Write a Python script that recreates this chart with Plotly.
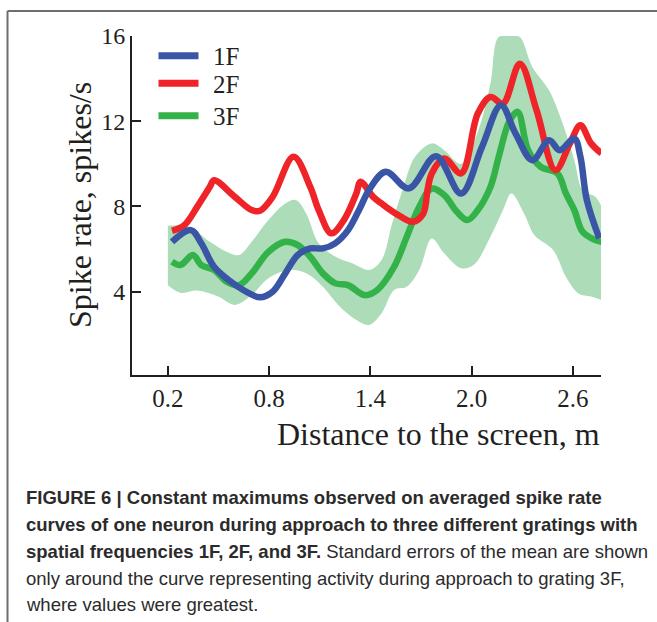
import plotly.graph_objects as go

# ---- data -----------------------------------------------------------------
# Distance to the screen (m) and averaged spike rate (spikes/s)
x_1f = [0.224, 0.336, 0.397, 0.473, 0.559, 0.646, 0.745, 0.820, 0.895, 0.969,
        1.043, 1.118, 1.191, 1.267, 1.341, 1.391, 1.490, 1.627, 1.788, 1.937,
        2.061, 2.173, 2.260, 2.359, 2.458, 2.521, 2.608, 2.644, 2.682, 2.756]
y_1f = [6.34, 6.89, 6.27, 5.17, 4.55, 4.08, 3.74, 4.00, 4.86, 5.72,
        6.03, 6.03, 6.27, 6.89, 7.98, 8.77, 9.63, 8.85, 10.36, 8.61,
        10.80, 12.75, 11.42, 10.17, 11.11, 10.64, 11.19, 10.33, 8.30, 6.50]

x_2f = [0.224, 0.298, 0.373, 0.448, 0.473, 0.596, 0.696, 0.745, 0.820, 0.944,
        1.043, 1.093, 1.168, 1.242, 1.316, 1.341, 1.416, 1.465, 1.565, 1.651,
        1.713, 1.738, 1.763, 1.837, 1.937, 2.036, 2.111, 2.185, 2.285, 2.384,
        2.496, 2.582, 2.644, 2.707, 2.769]
y_2f = [6.85, 7.13, 7.98, 8.92, 9.23, 8.45, 7.83, 7.80, 8.45, 10.33,
        8.92, 7.83, 6.74, 7.36, 8.61, 9.16, 8.45, 8.14, 7.59, 7.28,
        7.67, 8.77, 9.55, 10.25, 9.55, 12.36, 13.14, 12.83, 14.70, 12.52,
        9.70, 10.96, 11.81, 10.96, 10.49]

x_3f = [0.224, 0.273, 0.348, 0.397, 0.473, 0.547, 0.621, 0.696, 0.795, 0.895,
        0.969, 1.043, 1.118, 1.192, 1.267, 1.366, 1.440, 1.540, 1.615, 1.689,
        1.763, 1.838, 1.912, 1.974, 2.036, 2.111, 2.160, 2.223, 2.272, 2.334,
        2.409, 2.508, 2.558, 2.608, 2.657, 2.732, 2.769]
y_3f = [5.41, 5.25, 5.72, 5.25, 5.02, 4.47, 4.31, 4.86, 5.87, 6.34,
        6.19, 5.64, 4.86, 4.39, 4.31, 3.84, 4.08, 5.17, 6.58, 7.98,
        8.84, 8.53, 7.75, 7.36, 7.83, 8.92, 10.33, 12.00, 12.44, 10.64,
        9.86, 9.55, 8.61, 7.83, 6.81, 6.42, 6.34]

# standard error band around the 3F curve
x_3f_upper = [0.199, 0.324, 0.448, 0.547, 0.622, 0.696, 0.795, 0.895, 0.957, 1.019,
              1.093, 1.193, 1.292, 1.391, 1.465, 1.528, 1.590, 1.664, 1.763, 1.837,
              1.937, 2.036, 2.111, 2.160, 2.235, 2.285, 2.359, 2.458, 2.546, 2.608,
              2.657, 2.732, 2.770]
y_3f_upper = [7.10, 7.05, 6.34, 5.87, 5.72, 6.34, 7.36, 8.14, 8.30, 7.67,
              6.27, 5.64, 5.33, 5.02, 5.48, 7.20, 8.77, 10.33, 10.96, 10.64,
              10.00, 11.50, 13.77, 15.95, 16.00, 15.95, 14.55, 13.45, 11.73, 10.17,
              8.77, 8.45, 7.98]
x_3f_lower = [0.199, 0.274, 0.373, 0.497, 0.596, 0.696, 0.795, 0.919, 1.019, 1.118,
              1.217, 1.316, 1.391, 1.465, 1.540, 1.614, 1.689, 1.763, 1.837, 1.937,
              2.011, 2.111, 2.185, 2.235, 2.310, 2.371, 2.483, 2.558, 2.632, 2.707,
              2.770]
y_3f_lower = [4.30, 3.95, 4.05, 3.77, 3.38, 3.84, 4.63, 5.02, 4.86, 4.23,
              3.30, 2.67, 2.44, 2.98, 4.08, 4.23, 5.02, 6.50, 5.80, 5.10,
              5.25, 6.58, 7.83, 8.61, 7.67, 6.66, 5.95, 4.70, 3.92, 3.77,
              3.61]

x_ticks = [0.2, 0.8, 1.4, 2.0, 2.6]
x_tick_labels = ["0.2", "0.8", "1.4", "2.0", "2.6"]
y_ticks = [4, 8, 12, 16]
y_tick_labels = ["4", "8", "12", "16"]

series_names = ["1F", "2F", "3F"]
series_colors = ["#3a55a6", "#ee2428", "#33b24a"]
band_color = "#acdcb8"

caption_lines = [
    "<b>FIGURE 6 | Constant maximums observed on averaged spike rate</b>",
    "<b>curves of one neuron during approach to three different gratings with</b>",
    "<b>spatial frequencies 1F, 2F, and 3F.</b> Standard errors of the mean are shown",
    "only around the curve representing activity during approach to grating 3F,",
    "where values were greatest.",
]

# ---- page geometry (pixels) ---------------------------------------------------
FIG_W, FIG_H = 657, 622
L, T, R, B = 132, 36, 601, 375
W, H = R - L, B - T


def px(xp):
    return (xp - L) / W


def py(yp):
    return (B - yp) / H


SERIF = "Liberation Serif, Times New Roman, serif"
SANS = "Liberation Sans, Arial, sans-serif"
INK = "#231f20"

fig = go.Figure()

# SE band (lower edge first, then fill up to the upper edge)
fig.add_trace(go.Scatter(x=x_3f_lower, y=y_3f_lower, mode="lines",
                         line=dict(width=0, shape="spline", smoothing=1.0),
                         hoverinfo="skip", showlegend=False))
fig.add_trace(go.Scatter(x=x_3f_upper, y=y_3f_upper, mode="lines",
                         line=dict(width=0, shape="spline", smoothing=1.0),
                         fill="tonexty", fillcolor=band_color,
                         hoverinfo="skip", showlegend=False))

curves = [(x_3f, y_3f, 2), (x_2f, y_2f, 1), (x_1f, y_1f, 0)]
for xs, ys, i in curves:
    fig.add_trace(go.Scatter(x=xs, y=ys, mode="lines", name=series_names[i],
                             line=dict(color=series_colors[i], width=6.5,
                                       shape="spline", smoothing=1.0),
                             showlegend=False))

fig.update_xaxes(range=[-0.0133, 2.766], tickvals=x_ticks, ticktext=x_tick_labels,
                 showline=True, linecolor=INK, linewidth=2, ticks="inside",
                 ticklen=9, tickwidth=2, tickcolor=INK, showgrid=False,
                 zeroline=False, tickfont=dict(family=SERIF, size=25, color=INK))
fig.update_yaxes(range=[0.09, 16], tickvals=y_ticks, ticktext=y_tick_labels,
                 showline=True, linecolor=INK, linewidth=2, ticks="inside",
                 ticklen=9, tickwidth=2, tickcolor=INK, showgrid=False,
                 zeroline=False, tickfont=dict(family=SERIF, size=24, color=INK))

shapes = []
annotations = []

# frame around figure panel
frame_col = "#6d6e71"
shapes.append(dict(type="line", xref="paper", yref="paper",
                   x0=px(7.5), x1=px(657), y0=py(11), y1=py(11),
                   line=dict(color=frame_col, width=2)))
shapes.append(dict(type="line", xref="paper", yref="paper",
                   x0=px(7.5), x1=px(7.5), y0=py(11), y1=py(622),
                   line=dict(color=frame_col, width=2)))

# legend
legend_y = [55.7, 83.3, 115.7]
for i, name in enumerate(series_names):
    shapes.append(dict(type="line", xref="paper", yref="paper",
                       x0=px(158.5), x1=px(198.5), y0=py(legend_y[i]), y1=py(legend_y[i]),
                       line=dict(color=series_colors[i], width=7)))
    annotations.append(dict(text=name, xref="paper", yref="paper",
                            x=px(211), y=py(legend_y[i] + 1), xanchor="left", yanchor="middle",
                            showarrow=False, font=dict(family=SERIF, size=25, color=INK)))

# axis titles
annotations.append(dict(text="Distance to the screen, m", xref="paper", yref="paper",
                        x=px(438), y=py(434), xanchor="center", yanchor="middle",
                        showarrow=False, font=dict(family=SERIF, size=32, color=INK)))
annotations.append(dict(text="Spike rate, spikes/s", xref="paper", yref="paper",
                        x=px(80), y=py(205), xanchor="center", yanchor="middle",
                        textangle=-90, showarrow=False,
                        font=dict(family=SERIF, size=32, color=INK)))

# caption
cap_y = [497, 524, 551, 578, 604]
for line, yy in zip(caption_lines, cap_y):
    annotations.append(dict(text=line, xref="paper", yref="paper",
                            x=px(24), y=py(yy), xanchor="left", yanchor="middle",
                            showarrow=False,
                            font=dict(family=SANS, size=18.5, color="#2b2b2b")))

fig.update_layout(width=FIG_W, height=FIG_H,
                  margin=dict(l=L, r=FIG_W - R, t=T, b=FIG_H - B),
                  paper_bgcolor="white", plot_bgcolor="white",
                  shapes=shapes, annotations=annotations, showlegend=False)

fig.write_html("out.html")
